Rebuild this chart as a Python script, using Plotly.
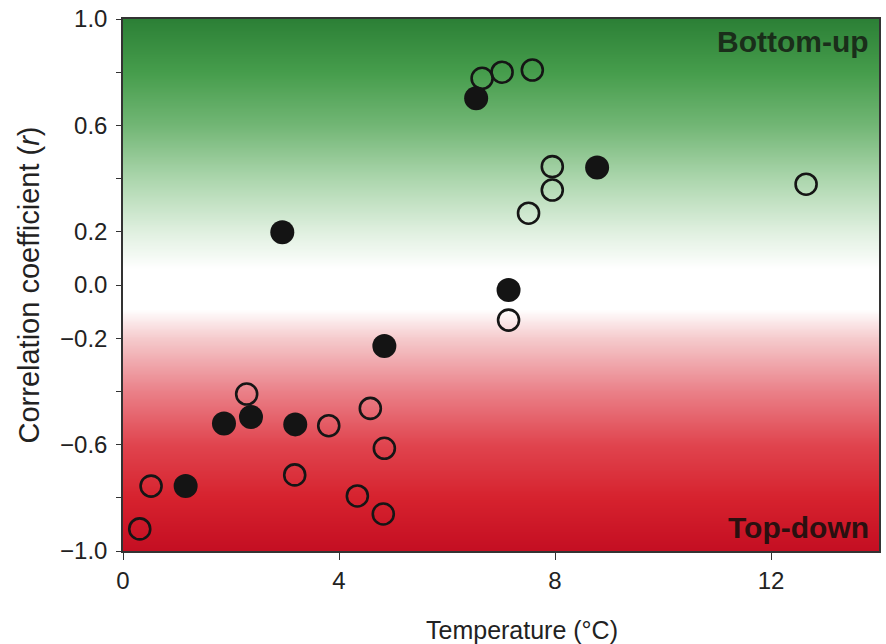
import numpy as np
import plotly.graph_objects as go

# Filled circles
filled_x = [1.16, 1.87, 2.37, 2.95, 3.19, 4.84, 6.54, 7.14, 8.78]
filled_y = [-0.756, -0.521, -0.496, 0.198, -0.524, -0.229, 0.702, -0.019, 0.442]

# Open circles
open_x = [0.31, 0.52, 2.29, 3.18, 3.81, 4.34, 4.58, 4.84, 4.82, 6.65, 7.02, 7.58,
          7.51, 7.14, 7.95, 7.95, 12.65]
open_y = [-0.917, -0.756, -0.410, -0.714, -0.529, -0.793, -0.464, -0.614, -0.861,
          0.777, 0.800, 0.808, 0.270, -0.132, 0.445, 0.357, 0.379]

y_ticks = [-1.0, -0.8, -0.6, -0.4, -0.2, 0.0, 0.2, 0.4, 0.6, 0.8, 1.0]
y_ticktext = ["\u22121.0", "", "\u22120.6", "", "\u22120.2", "0.0", "0.2", "", "0.6", "", "1.0"]
x_ticks = [0, 4, 8, 12]

# background gradient grid
grad_y = np.linspace(-1, 1, 201)
grad_x = [0, 14]
grad_z = [[v, v] for v in grad_y]

colorscale = [
    [0.0, "rgb(196,14,34)"],
    [0.1, "rgb(214,34,46)"],
    [0.2, "rgb(224,68,78)"],
    [0.3, "rgb(234,128,136)"],
    [0.4, "rgb(245,202,204)"],
    [0.455, "rgb(255,255,255)"],
    [0.53, "rgb(255,255,255)"],
    [0.6, "rgb(224,240,224)"],
    [0.7, "rgb(172,214,173)"],
    [0.8, "rgb(114,182,117)"],
    [0.9, "rgb(70,157,76)"],
    [1.0, "rgb(44,128,54)"],
]

fig = go.Figure()
fig.add_trace(go.Heatmap(x=grad_x, y=grad_y, z=grad_z, colorscale=colorscale,
                         zmin=-1, zmax=1, zsmooth="best", showscale=False,
                         hoverinfo="skip"))
fig.add_trace(go.Scatter(x=open_x, y=open_y, mode="markers",
                         marker=dict(symbol="circle-open", size=21, color="#151515",
                                     line=dict(width=2.6, color="#151515")),
                         showlegend=False))
fig.add_trace(go.Scatter(x=filled_x, y=filled_y, mode="markers",
                         marker=dict(symbol="circle", size=24, color="#141414",
                                     line=dict(width=0)),
                         showlegend=False))

font_family = "Liberation Sans, Arial, sans-serif"
fig.update_layout(
    width=886, height=644,
    margin=dict(l=123, r=5, t=19, b=93),
    plot_bgcolor="white", paper_bgcolor="white",
    font=dict(family=font_family, size=18, color="#222"),
    xaxis=dict(range=[0, 14], tickvals=x_ticks, ticks="outside", ticklen=7,
               tickcolor="#333", showline=True, linecolor="#333", linewidth=1.5,
               mirror=True, showgrid=False, zeroline=False,
               tickfont=dict(size=24)),
    yaxis=dict(range=[-1, 1], tickvals=y_ticks, ticktext=y_ticktext, ticks="outside",
               ticklen=5, tickcolor="#333", showline=True, linecolor="#333",
               linewidth=1.5, mirror=True, showgrid=False, zeroline=False,
               tickfont=dict(size=24), ticklabelstandoff=4,
               title=dict(text="Correlation coefficient (<i>r</i>)", font=dict(size=29),
                          standoff=12)),
    annotations=[
        dict(text="Temperature (\u00b0C)", xref="paper", yref="paper", x=0.528, y=-0.149,
             xanchor="center", yanchor="middle", showarrow=False,
             font=dict(size=25, color="#222")),
        dict(text="<b>Bottom-up</b>", xref="paper", yref="paper", x=0.989, y=0.958,
             xanchor="right", yanchor="middle", showarrow=False,
             font=dict(size=30, color="#1a2e1a")),
        dict(text="<b>Top-down</b>", xref="paper", yref="paper", x=0.989, y=0.045,
             xanchor="right", yanchor="middle", showarrow=False,
             font=dict(size=30, color="#2a1010")),
    ],
)

fig.write_html("out.html")
